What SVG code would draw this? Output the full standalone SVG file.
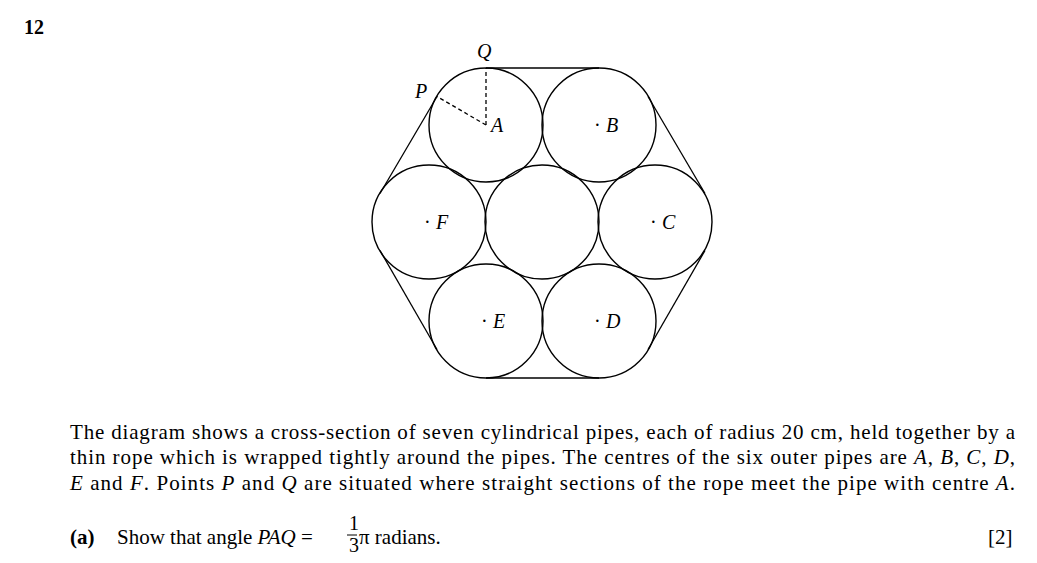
<svg xmlns="http://www.w3.org/2000/svg" width="1037" height="563" viewBox="0 0 1037 563">
<style>
.c{fill:none;stroke:#000;stroke-width:1.4}
.r{stroke:#000;stroke-width:1.3;fill:none}
text{font-family:"Liberation Serif",serif;font-size:20px;fill:#000}
.l{font-style:italic;font-size:20px}
.b{font-size:21px}
</style>
<rect width="1037" height="563" fill="#fff"/>
<text x="24" y="34" font-weight="bold">12</text>
<g id="connectors">
<line class="r" x1="486" y1="68" x2="599" y2="68"/>
<line class="r" x1="486" y1="378" x2="599" y2="378"/>
<line class="r" x1="437" y1="96.5" x2="380" y2="193.5"/>
<line class="r" x1="380" y1="250.5" x2="437" y2="349.5"/>
<line class="r" x1="648" y1="96.5" x2="705" y2="193.5"/>
<line class="r" x1="705" y1="250.5" x2="648" y2="349.5"/>
<line class="r" x1="486" y1="125" x2="486" y2="68" stroke-dasharray="4,3" stroke-width="1"/>
<line class="r" x1="486" y1="125" x2="437" y2="96.5" stroke-dasharray="4,3" stroke-width="1"/>
</g>
<g id="A"><circle class="c" cx="486" cy="125" r="57"/><text class="l" x="491" y="132">A</text></g>
<g id="B"><circle class="c" cx="599" cy="125" r="57"/><text x="594" y="132">·</text><text class="l" x="606" y="132">B</text></g>
<g id="C"><circle class="c" cx="655" cy="222" r="57"/><text x="650" y="229">·</text><text class="l" x="662" y="229">C</text></g>
<g id="O"><circle class="c" cx="542" cy="222" r="57"/></g>
<g id="F"><circle class="c" cx="429" cy="222" r="57"/><text x="424" y="229">·</text><text class="l" x="436" y="229">F</text></g>
<g id="E"><circle class="c" cx="486" cy="321" r="57"/><text x="481" y="328">·</text><text class="l" x="493" y="328">E</text></g>
<g id="D"><circle class="c" cx="599" cy="321" r="57"/><text x="594" y="328">·</text><text class="l" x="606" y="328">D</text></g>
<text class="l" x="477" y="58">Q</text>
<text class="l" x="415" y="98">P</text>
<text class="b" x="70" y="439" textLength="945" lengthAdjust="spacing">The diagram shows a cross-section of seven cylindrical pipes, each of radius 20 cm, held together by a</text>
<text class="b" x="70" y="464" textLength="945" lengthAdjust="spacing">thin rope which is wrapped tightly around the pipes.  The centres of the six outer pipes are <tspan font-style="italic">A</tspan>, <tspan font-style="italic">B</tspan>, <tspan font-style="italic">C</tspan>, <tspan font-style="italic">D</tspan>,</text>
<text class="b" x="70" y="490" textLength="945" lengthAdjust="spacing"><tspan font-style="italic">E</tspan> and <tspan font-style="italic">F</tspan>.  Points <tspan font-style="italic">P</tspan> and <tspan font-style="italic">Q</tspan> are situated where straight sections of the rope meet the pipe with centre <tspan font-style="italic">A</tspan>.</text>
<text class="b" x="70" y="544"><tspan font-weight="bold">(a)</tspan></text>
<text class="b" x="117" y="544">Show that angle <tspan font-style="italic">PAQ</tspan> =</text>
<text x="349" y="530" font-size="13">1</text>
<line x1="347" y1="535" x2="357" y2="535" stroke="#000" stroke-width="1"/>
<text x="349" y="552" font-size="13">3</text>
<text class="b" x="359" y="544">π radians.</text>
<text class="b" x="988" y="544">[2]</text>
</svg>
